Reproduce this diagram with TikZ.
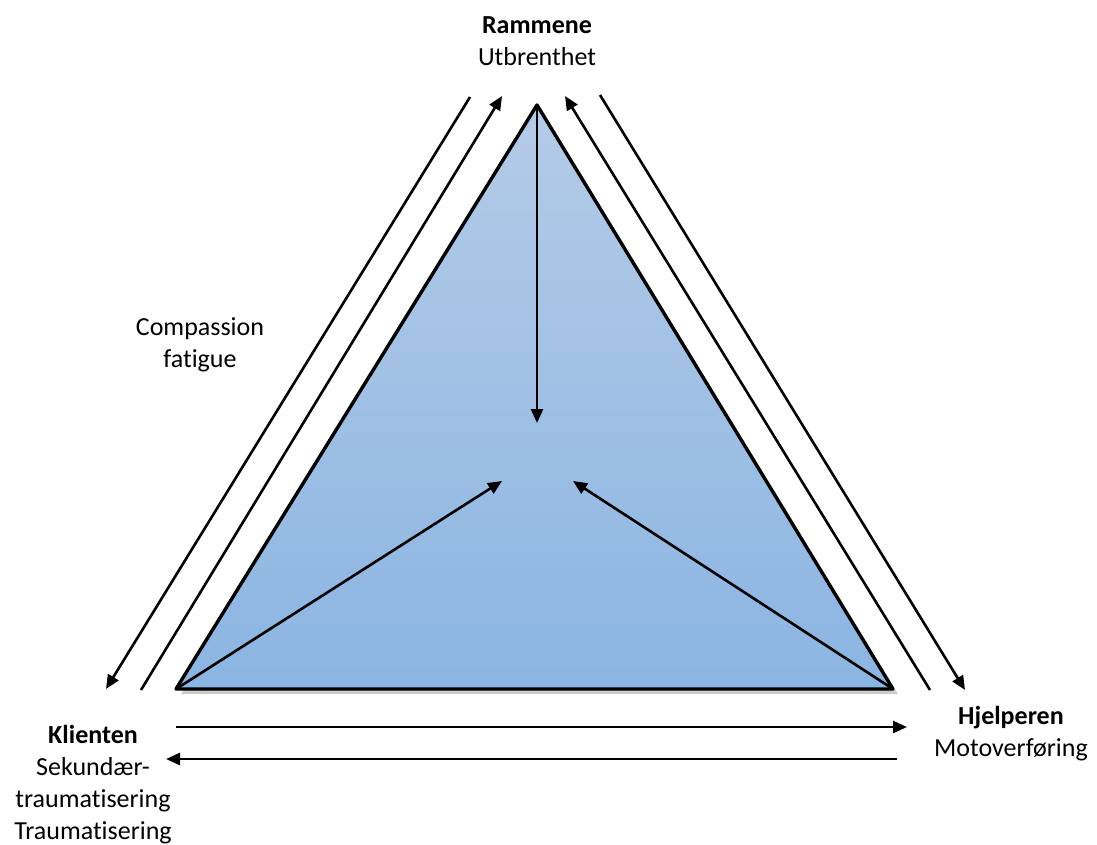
\documentclass[tikz,border=0pt]{standalone}
\usepackage{fontspec}
\setmainfont{Carlito}[Ligatures=NoCommon]
\usetikzlibrary{arrows.meta,shadows}
\definecolor{trekanttopp}{HTML}{B4CBE7}
\definecolor{trekantbunn}{HTML}{8BB5E2}

\begin{document}
\begin{tikzpicture}[x=0.5pt,y=-0.5pt,font=\fontsize{13}{16}\selectfont,line join=round,>={Triangle[length=7pt,width=6pt]}]
    \useasboundingbox (0,0) rectangle (1097,845);
    \tikzset{pil/.style={->,line width=1.3pt}}
    % hjørnene i trekanten
    \coordinate (R) at (537,105);
    \coordinate (K) at (176,689);
    \coordinate (H) at (893,689);
    \path[draw,line width=1.7pt,top color=trekanttopp,bottom color=trekantbunn,
          drop shadow={opacity=0.4,shadow xshift=2.5pt,shadow yshift=-2.5pt}]
          (R) -- (K) -- (H) -- cycle;
    % piler inn mot midten
    \coordinate (M1) at (537,423);
    \coordinate (M2) at (502,481);
    \coordinate (M3) at (573,481);
    \draw[pil] (R) -- (M1);
    \draw[pil] (K) -- (M2);
    \draw[pil] (H) -- (M3);
    % piler utenfor
    \coordinate (A1) at (470,97);  \coordinate (A2) at (106,689);
    \coordinate (B1) at (141,690); \coordinate (B2) at (502,96);
    \coordinate (C1) at (930,690); \coordinate (C2) at (565,96);
    \coordinate (D1) at (600,95);  \coordinate (D2) at (965,690);
    \coordinate (E1) at (176,727); \coordinate (E2) at (907,727);
    \coordinate (F1) at (897,759); \coordinate (F2) at (166,759);
    \draw[pil] (A1) -- (A2);
    \draw[pil] (B1) -- (B2);
    \draw[pil] (C1) -- (C2);
    \draw[pil] (D1) -- (D2);
    \draw[pil] (E1) -- (E2);
    \draw[pil] (F1) -- (F2);
    % tekst
    \node[align=center] (rammene) at (537,41) {\textbf{Rammene}\\Utbrenthet};
    \node[align=center] (compassion) at (200,345) {Compassion\\fatigue};
    \node[align=center] (klienten) at (93,785) {\textbf{Klienten}\\Sekundær-\\traumatisering\\Traumatisering};
    \node[align=center] (hjelperen) at (1011,734) {\textbf{Hjelperen}\\Motoverføring};
\end{tikzpicture}
\end{document}
